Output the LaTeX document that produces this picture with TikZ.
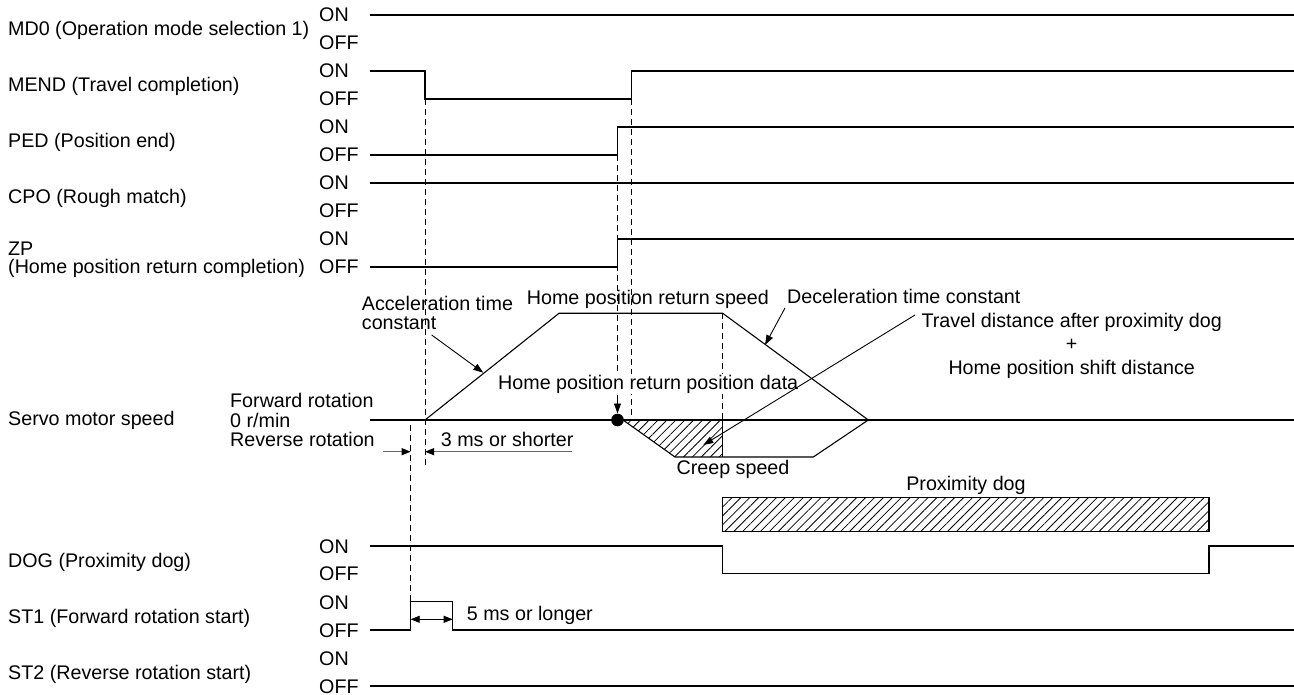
\documentclass[tikz,border=0pt]{standalone}
\usepackage{fontspec}
\setmainfont{Liberation Sans}
\usetikzlibrary{arrows.meta,patterns.meta}
\begin{document}
\begin{tikzpicture}[x=1pt,y=-1pt,
  sig/.style={line width=1.1pt,line join=miter},
  vdash/.style={line width=0.9pt,dash pattern=on 6pt off 4pt},
  lbl/.style={font=\fontsize{19.7}{22}\selectfont,inner sep=0pt,anchor=base west},
  clbl/.style={font=\fontsize{19.7}{22}\selectfont,inner sep=0pt,anchor=base},
  ptr/.style={line width=0.9pt,-{Triangle[length=10pt,width=7pt]}},
  gptr/.style={line width=1.1pt,draw=black!60,-{Triangle[length=9pt,width=7pt]},arrows={-{Triangle[length=9pt,width=7pt,fill=black,color=black]}}},
  hatch/.style={pattern={Lines[angle=45,distance=6.3pt,line width=0.8pt]}}
]
\useasboundingbox (0,0) rectangle (1294,695);

% ---- left signal labels
\node[lbl] (lmd0) at (8,36) {MD0 (Operation mode selection 1)};
\node[lbl] (lmend) at (8,92) {MEND (Travel completion)};
\node[lbl] (lped) at (8,148) {PED (Position end)};
\node[lbl] (lcpo) at (8,204) {CPO (Rough match)};
\node[lbl] (lzp1) at (8,256) {ZP};
\node[lbl] (lzp2) at (8,274) {(Home position return completion)};
\node[lbl] (lsrv) at (8,425) {Servo motor speed};
\node[lbl] (ldog) at (8,567) {DOG (Proximity dog)};
\node[lbl] (lst1) at (8,623) {ST1 (Forward rotation start)};
\node[lbl] (lst2) at (8,679) {ST2 (Reverse rotation start)};

% ---- ON / OFF labels
\foreach \on/\off/\n in {15/43/a,71/99/b,127/155/c,183/211/d,239/267/e,546/573/f,602/630/g,658/686/h}{
  \node[lbl] (on\n) at (319,\on+7) {ON};
  \node[lbl] (off\n) at (319,\off+7) {OFF};
}

% ---- dashed timing lines
\draw[vdash] (425,99) -- (425,467);
\draw[vdash] (410.7,425) -- (410.7,601.7);
\draw[vdash] (617.5,155) -- (617.5,395);
\draw[vdash] (631.7,99) -- (631.7,415);
\draw[vdash] (722.7,313.3) -- (722.7,420);

% ---- digital signals
\draw[sig] (370,15) -- (1294,15);
\draw[sig] (370,71) -- (425,71) -- (425,99) -- (631.7,99) -- (631.7,71) -- (1294,71);
\draw[sig] (370,155) -- (617.5,155) -- (617.5,127) -- (1294,127);
\draw[sig] (370,183) -- (1294,183);
\draw[sig] (370,267) -- (617.5,267) -- (617.5,239) -- (1294,239);
\draw[sig] (370,546) -- (722.7,546) -- (722.7,573.3) -- (1209,573.3) -- (1209,546) -- (1294,546);
\draw[sig] (370,630) -- (410.7,630) -- (410.7,601.7) -- (452.7,601.7) -- (452.7,630) -- (1294,630);
\draw[sig] (370,686) -- (1294,686);

% ---- servo motor speed
\fill[hatch] (623,420) -- (675,457) -- (722.7,457) -- (722.7,420) -- cycle;
\draw[sig] (370,420) -- (1294,420);
\draw[sig] (425,420) -- (559,313.3) -- (722.7,313.3) -- (868.3,420);
\draw[sig] (623,420) -- (675,457) -- (813.3,457) -- (868.3,420);
\draw[sig] (722.7,420) -- (722.7,457);
\fill (617.5,420) circle[radius=6.3];

% ---- proximity dog bar
\draw[sig,hatch] (722.7,497.7) rectangle (1209,531.7);

% ---- speed texts
\node[lbl] (fwd) at (230,407) {Forward rotation};
\node[lbl] (zero) at (230,427) {0 r/min};
\node[lbl] (rev) at (230,446) {Reverse rotation};
\node[lbl] (acc1) at (361.7,311) {Acceleration time};
\node[lbl] (acc2) at (361.7,330) {constant};
\node[lbl] (hspd) at (526.7,305) {Home position return speed};
\node[lbl] (dec) at (787,304) {Deceleration time constant};
\node[clbl] (trv1) at (1071.7,327) {Travel distance after proximity dog};
\node[clbl] (trv2) at (1071.7,350) {+};
\node[clbl] (trv3) at (1071.7,374) {Home position shift distance};
\node[lbl,fill=white,inner sep=1pt] (hpd) at (497,389) {Home position return position data};
\node[clbl] (creep) at (733,474) {Creep speed};
\node[clbl] (pdog) at (966,490) {Proximity dog};
\node[lbl] (t3) at (440.7,446) {3 ms or shorter};
\node[lbl] (t5) at (466.7,620) {5 ms or longer};

% ---- pointer arrows
\coordinate (accS) at (431.7,335); \coordinate (accE) at (483.3,372.7);
\coordinate (decS) at (785,308);   \coordinate (decE) at (765,345);
\coordinate (trvS) at (915,315);   \coordinate (trvE) at (703.3,445);
\coordinate (dotS) at (617.5,395); \coordinate (dotE) at (617.5,413.5);
\draw[ptr] (accS) -- (accE);
\draw[ptr] (decS) -- (decE);
\draw[ptr] (trvS) -- (trvE);
\draw[ptr] (dotS) -- (dotE);

% ---- 3 ms arrows
\coordinate (a3L) at (383.3,451.7); \coordinate (a3Lt) at (410.7,451.7);
\coordinate (a3R) at (571.7,451.7); \coordinate (a3Rt) at (425,451.7);
\draw[gptr] (a3L) -- (a3Lt);
\draw[gptr] (a3R) -- (a3Rt);

% ---- 5 ms arrow
\coordinate (a5L) at (410.7,619.3); \coordinate (a5R) at (452.7,619.3);
\draw[line width=0.9pt,{Triangle[length=9pt,width=7pt]}-{Triangle[length=9pt,width=7pt]}] (a5L) -- (a5R);
\end{tikzpicture}
\end{document}
